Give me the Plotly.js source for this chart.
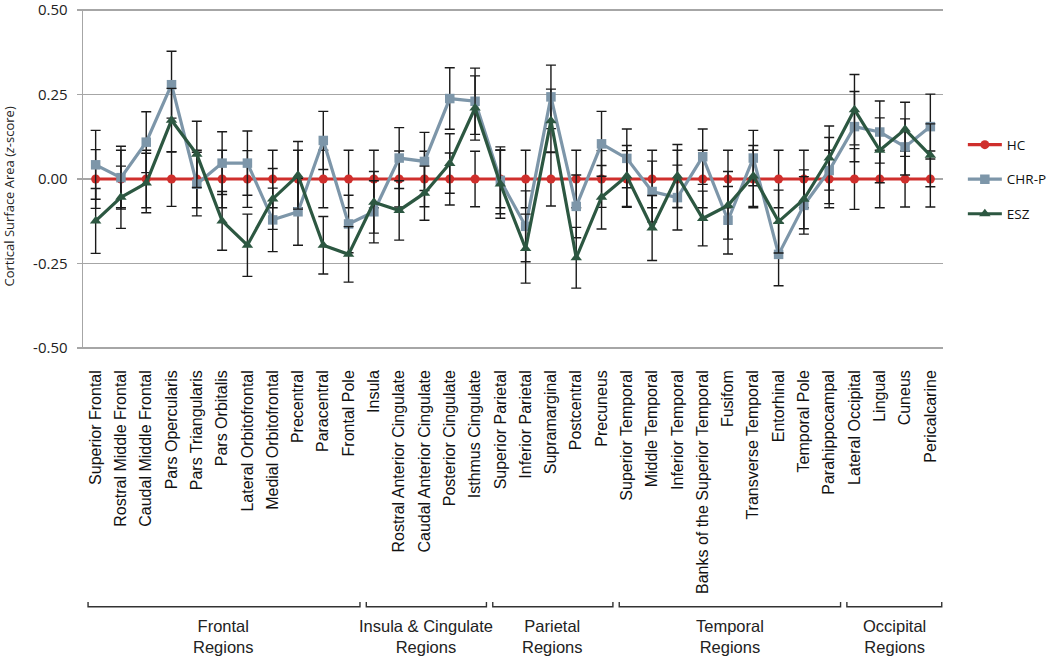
<!DOCTYPE html>
<html>
<head>
<meta charset="utf-8">
<script src="https://cdn.plot.ly/plotly-3.0.1.min.js"></script>
<style>html,body{margin:0;padding:0;background:#fff;}#chart{width:1050px;height:657px;}</style>
</head>
<body>
<div id="chart"></div>
<script>
// ---------- data ----------
const regions = ["Superior Frontal","Rostral Middle Frontal","Caudal Middle Frontal","Pars Opercularis","Pars Triangularis","Pars Orbitalis","Lateral Orbitofrontal","Medial Orbitofrontal","Precentral","Paracentral","Frontal Pole",
  "Insula","Rostral Anterior Cingulate","Caudal Anterior Cingulate","Posterior Cingulate","Isthmus Cingulate",
  "Superior Parietal","Inferior Parietal","Supramarginal","Postcentral","Precuneus",
  "Superior Temporal","Middle Temporal","Inferior Temporal","Banks of the Superior Temporal","Fusifom","Transverse Temporal","Entorhinal","Temporal Pole","Parahippocampal",
  "Lateral Occipital","Lingual","Cuneus","Pericalcarine"];

const hcValues  = [0,0,0,0,0,0,0,0,0,0,0, 0,0,0,0,0, 0,0,0,0,0, 0,0,0,0,0,0,0,0,0, 0,0,0,0];
const hcErr     = [0.087,0.085,0.085,0.081,0.085,0.085,0.084,0.085,0.085,0.085,0.085, 0.085,0.083,0.082,0.077,0.082, 0.085,0.085,0.08,0.085,0.084, 0.084,0.085,0.085,0.085,0.085,0.085,0.085,0.085,0.085, 0.09,0.085,0.083,0.083];

const chrValues = [0.042,0.004,0.109,0.279,-0.015,0.047,0.047,-0.121,-0.097,0.114,-0.133, -0.097,0.062,0.052,0.238,0.230, -0.004,-0.140,0.243,-0.081,0.104, 0.061,-0.037,-0.055,0.066,-0.122,0.062,-0.223,-0.078,0.025, 0.155,0.139,0.095,0.155];
const chrErr    = [0.102,0.093,0.090,0.099,0.094,0.093,0.095,0.094,0.099,0.086,0.085, 0.092,0.090,0.086,0.091,0.098, 0.099,0.105,0.094,0.093,0.096, 0.087,0.09,0.096,0.082,0.100,0.082,0.093,0.085,0.098, 0.104,0.092,0.083,0.096];

const eszValues = [-0.124,-0.054,-0.012,0.174,0.073,-0.124,-0.196,-0.059,0.011,-0.196,-0.223, -0.069,-0.093,-0.042,0.046,0.210, -0.015,-0.206,0.172,-0.233,-0.054, 0.009,-0.145,0.009,-0.117,-0.078,0.009,-0.126,-0.060,0.062, 0.205,0.085,0.147,0.070];
const eszErr    = [0.096,0.092,0.088,0.094,0.098,0.087,0.092,0.090,0.100,0.085,0.082, 0.091,0.088,0.080,0.088,0.095, 0.101,0.102,0.094,0.090,0.094, 0.090,0.096,0.093,0.081,0.100,0.090,0.093,0.087,0.095, 0.104,0.096,0.080,0.093];

const yTickVals  = [0.5,0.25,0,-0.25,-0.5];
const yTickText  = ["0.50","0.25","0.00","-0.25","-0.50"];

const groupNames = ["Frontal<br>Regions","Insula & Cingulate<br>Regions","Parietal<br>Regions","Temporal<br>Regions","Occipital<br>Regions"];
const groupFirst = [0,11,16,21,30];
const groupLast  = [10,15,20,29,33];

// ---------- styling ----------
const RED = "#cf2f2c", BLUE = "#7d96a9", GREEN = "#2c5741";

function errStyle(arr){
  return {type:"data", array:arr, visible:true, color:"#1a1a1a", thickness:1.4, width:5};
}

const traces = [
  {x: regions, y: hcValues, name:"HC", type:"scatter", mode:"lines+markers", legendgroup:"a",
   line:{color:RED, width:3.2}, marker:{color:RED, symbol:"circle", size:9},
   error_y: errStyle(hcErr)},
  {x: regions, y: chrValues, name:"CHR-P", type:"scatter", mode:"lines+markers", legendgroup:"b",
   line:{color:BLUE, width:3.2}, marker:{color:BLUE, symbol:"square", size:9.5},
   error_y: errStyle(chrErr)},
  {x: regions, y: eszValues, name:"ESZ", type:"scatter", mode:"lines+markers", legendgroup:"c",
   line:{color:GREEN, width:3.2}, marker:{color:GREEN, symbol:"triangle-up", size:10},
   error_y: errStyle(eszErr)}
];

// bracket / label positions in pixels converted to paper coords of a 340px tall plot area
const shapes = [];
const annotations = [];
const yLine = -0.758, yEnd = -0.744;
for (let g = 0; g < groupNames.length; g++){
  const x0 = groupFirst[g] - 0.3, x1 = groupLast[g] + 0.45;
  shapes.push({type:"path", xref:"x", yref:"paper",
    path:`M ${x0},${yEnd} L ${x0},${yLine} L ${x1},${yLine} L ${x1},${yEnd}`,
    line:{color:"#333", width:1.4}});
  annotations.push({xref:"x", yref:"paper", x:(groupFirst[g]+groupLast[g])/2 + 0.07, y:-0.846,
    text:groupNames[g], showarrow:false, xanchor:"center", yanchor:"middle",
    font:{family:"Liberation Sans, Arial, sans-serif", size:16.5, color:"#222"}});
}
annotations.push({xref:"paper", yref:"paper", x:-0.0855, y:0.45, textangle:-90,
  text:"Cortical Surface Area (<i>z</i>-score)", showarrow:false, xanchor:"center", yanchor:"middle",
  font:{family:"Open Sans, sans-serif", size:13, color:"#222"}});

const layout = {
  width:1050, height:657,
  margin:{l:83, r:107, t:9, b:308, pad:0},
  paper_bgcolor:"#fff", plot_bgcolor:"#fff",
  showlegend:true,
  legend:{xref:"container", yref:"container", x:0.917, xanchor:"left", y:0.727, yanchor:"middle",
    traceorder:"grouped", tracegroupgap:14,
    font:{family:"Open Sans, sans-serif", size:13.5, color:"#111"}, bgcolor:"rgba(0,0,0,0)", itemwidth:34},
  xaxis:{type:"category", range:[-0.5, 33.5], showgrid:false, zeroline:false, showline:false,
    tickangle:-90, ticks:"", ticklabelstandoff:17, automargin:false,
    tickfont:{family:"Liberation Sans, Arial, sans-serif", size:16, color:"#111"}},
  yaxis:{range:[-0.503, 0.503], tickvals:yTickVals, ticktext:yTickText, showgrid:true, automargin:false,
    gridcolor:"#a6a6a6", gridwidth:1.4, zeroline:false, showline:true, linecolor:"#a6a6a6", linewidth:1.4,
    ticks:"outside", ticklen:5, tickcolor:"#a6a6a6", tickwidth:1.4, ticklabelstandoff:6,
    ticklabeloverflow:"allow",
    tickfont:{family:"Open Sans, sans-serif", size:15, color:"#222"}},
  shapes:shapes,
  annotations:annotations
};

Plotly.newPlot("chart", traces, layout, {displayModeBar:false, staticPlot:true});
</script>
</body>
</html>
